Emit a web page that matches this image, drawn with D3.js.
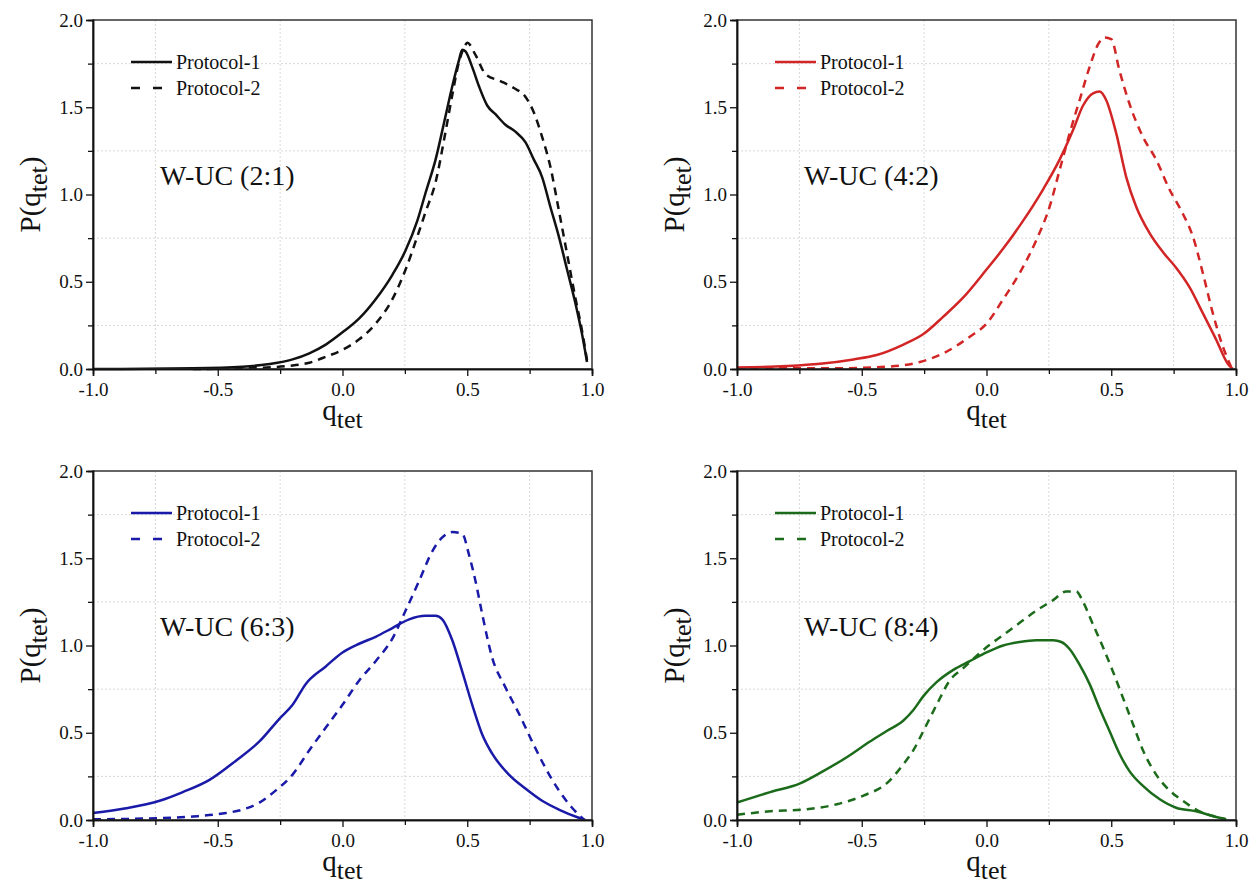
<!DOCTYPE html>
<html>
<head>
<meta charset="utf-8">
<script src="https://cdn.jsdelivr.net/npm/d3@7"></script>
<style>
  body { margin: 0; background: #fff; }
  svg { display: block; }
  svg text { font-family: "Liberation Serif", "Times New Roman", serif; }
</style>
</head>
<body>
<svg id="chart" width="1254" height="890"></svg>
<script>
// panel labels, colours, legend names
const panelLabels = ["W-UC (2:1)", "W-UC (4:2)", "W-UC (6:3)", "W-UC (8:4)"];
const panelColors = ["#111111", "#d22525", "#1a1aa8", "#1b6b1b"];
const seriesNames = ["Protocol-1", "Protocol-2"];

const qTicks = [-1, -0.5, 0, 0.5, 1];
const qMinor = [-0.75, -0.25, 0.25, 0.75];
const pTicks = [0, 0.5, 1, 1.5, 2];
const pMinor = [0.25, 0.75, 1.25, 1.75];

// W-UC (2:1)
const wuc21P1 = [[-1,0],[-0.6,0.004],[-0.4,0.013],[-0.3,0.027],[-0.2,0.055],[-0.133,0.09],[-0.067,0.14],[0,0.21],[0.067,0.29],[0.133,0.40],[0.2,0.54],[0.253,0.68],[0.3,0.85],[0.333,1.01],[0.373,1.20],[0.413,1.45],[0.44,1.62],[0.467,1.77],[0.48,1.83],[0.493,1.82],[0.52,1.73],[0.547,1.62],[0.58,1.51],[0.613,1.46],[0.653,1.40],[0.693,1.36],[0.733,1.30],[0.767,1.20],[0.8,1.10],[0.833,0.93],[0.867,0.76],[0.9,0.57],[0.933,0.38],[0.96,0.20],[0.98,0.04]];
const wuc21P2 = [[-0.6,0],[-0.4,0.004],[-0.2,0.02],[-0.133,0.036],[-0.067,0.07],[0,0.11],[0.067,0.17],[0.133,0.26],[0.2,0.40],[0.253,0.57],[0.3,0.76],[0.333,0.90],[0.373,1.07],[0.413,1.36],[0.44,1.57],[0.467,1.76],[0.49,1.85],[0.5,1.87],[0.533,1.80],[0.573,1.69],[0.633,1.65],[0.687,1.61],[0.733,1.56],[0.767,1.47],[0.8,1.33],[0.833,1.16],[0.867,0.91],[0.9,0.66],[0.933,0.41],[0.96,0.22],[0.98,0.05]];

// W-UC (4:2)
const wuc42P1 = [[-1,0.008],[-0.8,0.017],[-0.667,0.03],[-0.533,0.055],[-0.44,0.08],[-0.333,0.14],[-0.253,0.20],[-0.173,0.30],[-0.093,0.41],[0,0.57],[0.067,0.69],[0.147,0.85],[0.227,1.03],[0.293,1.20],[0.347,1.37],[0.387,1.51],[0.427,1.58],[0.453,1.59],[0.48,1.54],[0.52,1.35],[0.56,1.10],[0.6,0.93],[0.653,0.78],[0.707,0.67],[0.76,0.58],[0.813,0.47],[0.867,0.32],[0.92,0.17],[0.967,0.03],[0.987,0]];
const wuc42P2 = [[-1,0.004],[-0.6,0.004],[-0.4,0.013],[-0.267,0.04],[-0.173,0.09],[-0.067,0.185],[0,0.26],[0.067,0.40],[0.133,0.55],[0.2,0.74],[0.253,0.93],[0.293,1.14],[0.333,1.35],[0.373,1.54],[0.413,1.73],[0.447,1.86],[0.473,1.90],[0.5,1.89],[0.533,1.71],[0.573,1.52],[0.627,1.33],[0.68,1.20],[0.733,1.03],[0.787,0.89],[0.827,0.76],[0.867,0.55],[0.907,0.32],[0.947,0.13],[0.98,0.013]];

// W-UC (6:3)
const wuc63P1 = [[-1,0.04],[-0.867,0.067],[-0.733,0.11],[-0.64,0.16],[-0.533,0.23],[-0.427,0.34],[-0.333,0.45],[-0.253,0.58],[-0.2,0.66],[-0.147,0.78],[-0.067,0.88],[0,0.96],[0.067,1.01],[0.133,1.05],[0.2,1.10],[0.267,1.15],[0.333,1.17],[0.373,1.17],[0.4,1.15],[0.44,1.03],[0.48,0.85],[0.52,0.66],[0.56,0.49],[0.6,0.38],[0.667,0.26],[0.733,0.18],[0.8,0.11],[0.867,0.06],[0.947,0.013],[0.973,0]];
const wuc63P2 = [[-1,0.004],[-0.8,0.008],[-0.6,0.02],[-0.467,0.04],[-0.4,0.06],[-0.333,0.10],[-0.267,0.17],[-0.2,0.26],[-0.133,0.40],[-0.067,0.53],[0,0.66],[0.067,0.80],[0.133,0.91],[0.2,1.04],[0.253,1.20],[0.307,1.37],[0.36,1.54],[0.4,1.62],[0.44,1.65],[0.48,1.64],[0.507,1.52],[0.533,1.37],[0.56,1.18],[0.6,0.93],[0.653,0.76],[0.707,0.61],[0.76,0.45],[0.813,0.30],[0.867,0.17],[0.92,0.07],[0.967,0.004]];

// W-UC (8:4)
const wuc84P1 = [[-1,0.10],[-0.867,0.16],[-0.747,0.21],[-0.667,0.27],[-0.56,0.36],[-0.467,0.45],[-0.4,0.51],[-0.333,0.57],[-0.293,0.63],[-0.253,0.71],[-0.2,0.79],[-0.133,0.86],[-0.067,0.91],[0,0.96],[0.067,1.00],[0.133,1.02],[0.2,1.03],[0.267,1.03],[0.3,1.02],[0.333,0.98],[0.373,0.89],[0.413,0.78],[0.453,0.64],[0.493,0.51],[0.533,0.38],[0.573,0.28],[0.627,0.195],[0.693,0.12],[0.76,0.07],[0.84,0.05],[0.907,0.023],[0.96,0.004]];
const wuc84P2 = [[-1,0.03],[-0.867,0.05],[-0.733,0.06],[-0.6,0.09],[-0.493,0.14],[-0.4,0.21],[-0.333,0.32],[-0.293,0.40],[-0.253,0.51],[-0.2,0.66],[-0.147,0.80],[-0.093,0.87],[-0.04,0.94],[0,0.99],[0.067,1.06],[0.133,1.13],[0.2,1.20],[0.267,1.26],[0.32,1.31],[0.36,1.31],[0.387,1.25],[0.427,1.12],[0.467,0.99],[0.507,0.85],[0.547,0.70],[0.587,0.55],[0.627,0.40],[0.68,0.26],[0.733,0.17],[0.787,0.11],[0.84,0.06],[0.907,0.023],[0.96,0.004]];

const panelSeries = [[wuc21P1, wuc21P2], [wuc42P1, wuc42P2], [wuc63P1, wuc63P2], [wuc84P1, wuc84P2]];

const svg = d3.select("#chart");
const pw = 499, ph = 349;
const lefts = [93, 737], tops = [20, 471];

panelLabels.forEach((label, i) => {
  const color = panelColors[i];
  const g = svg.append("g")
    .attr("transform", "translate(" + lefts[i % 2] + "," + tops[Math.floor(i / 2)] + ")");

  const x = d3.scaleLinear().domain([-1, 1]).range([0, pw]);
  const y = d3.scaleLinear().domain([0, 2]).range([ph, 0]);

  // dotted grid on the quarter lines only
  g.selectAll(".vgrid").data(qMinor).enter().append("line")
    .attr("x1", d => x(d)).attr("x2", d => x(d))
    .attr("y1", 0).attr("y2", ph)
    .attr("stroke", "#d8d8d8").attr("stroke-dasharray", "2,2");
  g.selectAll(".hgrid").data(pMinor).enter().append("line")
    .attr("y1", d => y(d)).attr("y2", d => y(d))
    .attr("x1", 0).attr("x2", pw)
    .attr("stroke", "#d8d8d8").attr("stroke-dasharray", "2,2");

  const line = d3.line()
    .x(d => x(d[0]))
    .y(d => y(d[1]))
    .curve(d3.curveMonotoneX);

  panelSeries[i].forEach((s, k) => {
    g.append("path")
      .datum(s)
      .attr("fill", "none")
      .attr("stroke", color)
      .attr("stroke-width", 2.5)
      .attr("stroke-dasharray", k === 1 ? "8,6" : null)
      .attr("d", line);
  });

  // frame
  g.append("rect")
    .attr("width", pw).attr("height", ph)
    .attr("fill", "none").attr("stroke", "#333").attr("stroke-width", 1.5);

  // axes
  const xAxis = g.append("g").attr("transform", "translate(0," + ph + ")")
    .call(d3.axisBottom(x).tickValues(qTicks).tickSize(7).tickFormat(d => d.toFixed(1)));
  g.append("g").attr("transform", "translate(0," + ph + ")")
    .call(d3.axisBottom(x).tickValues(qMinor).tickSize(5).tickFormat(""));
  const yAxis = g.append("g")
    .call(d3.axisLeft(y).tickValues(pTicks).tickSize(7).tickFormat(d => d.toFixed(1)));
  g.append("g")
    .call(d3.axisLeft(y).tickValues(pMinor).tickSize(5).tickFormat(""));

  g.selectAll("g").attr("font-family", null).attr("font-size", null);
  g.selectAll(".domain").attr("stroke", "#111").attr("stroke-width", 1.5);
  g.selectAll(".tick line").attr("stroke", "#111").attr("stroke-width", 1.3);
  xAxis.selectAll("text").attr("font-size", 19).attr("fill", "#111").attr("dy", "0.88em");
  yAxis.selectAll("text").attr("font-size", 19).attr("fill", "#111").attr("x", -10);

  // axis titles
  const xt = g.append("text")
    .attr("x", pw / 2).attr("y", ph + 51)
    .attr("text-anchor", "middle")
    .attr("font-size", 29).attr("fill", "#111");
  xt.append("tspan").text("q");
  xt.append("tspan").attr("dy", 8).attr("font-size", 26).text("tet");

  const yt = g.append("text")
    .attr("transform", "translate(-53," + (ph / 2) + ") rotate(-90)")
    .attr("text-anchor", "middle")
    .attr("font-size", 29).attr("fill", "#111");
  yt.append("tspan").text("P(q");
  yt.append("tspan").attr("dy", 7).attr("font-size", 26).text("tet");
  yt.append("tspan").attr("dy", -7).text(")");

  // legend
  seriesNames.forEach((name, k) => {
    const ly = 42 + k * 26;
    g.append("line")
      .attr("x1", 38).attr("x2", k === 1 ? 70 : 79)
      .attr("y1", ly).attr("y2", ly)
      .attr("stroke", color).attr("stroke-width", 2.5)
      .attr("stroke-dasharray", k === 1 ? "9,13" : null);
    g.append("text")
      .attr("x", 83).attr("y", ly).attr("dy", "0.33em")
      .attr("font-size", 20).attr("fill", "#111")
      .text(name);
  });

  // panel annotation
  g.append("text")
    .attr("x", 67).attr("y", 165)
    .attr("font-size", 28).attr("fill", "#111")
    .text(label);
});
</script>
</body>
</html>
